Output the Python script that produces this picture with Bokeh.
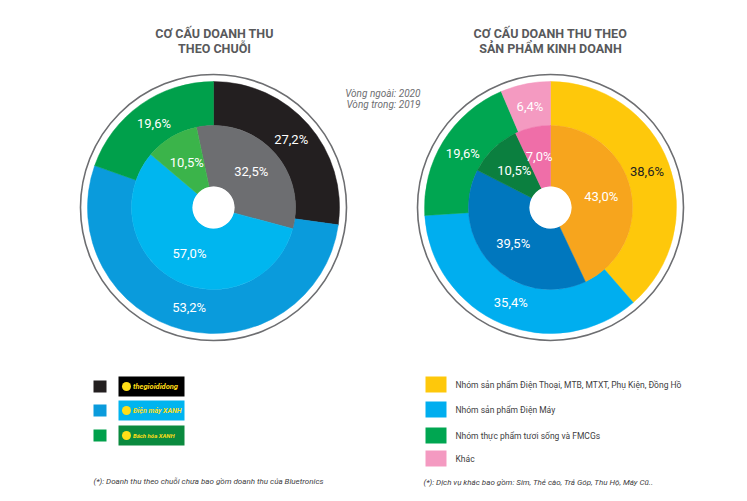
import math
from bokeh.plotting import figure
from bokeh.models import Range1d
from bokeh.core.properties import value
from bokeh.embed import file_html
from bokeh.resources import INLINE

# ---------------- data ----------------
chains = ["thegioididong", "Điện máy XANH", "Bách hóa XANH"]
chain_2020 = [27.2, 53.2, 19.6]   # outer ring
chain_2019 = [32.5, 57.0, 10.5]   # inner ring

products = ["Nhóm sản phẩm Điện Thoại, MTB, MTXT, Phụ Kiện, Đồng Hồ",
            "Nhóm sản phẩm Điện Máy",
            "Nhóm thực phẩm tươi sống và FMCGs",
            "Khác"]
product_2020 = [38.6, 35.4, 19.6, 6.4]   # outer ring
product_2019 = [43.0, 39.5, 10.5, 7.0]   # inner ring

title_left = ["CƠ CẤU DOANH THU", "THEO CHUỖI"]
title_right = ["CƠ CẤU DOANH THU THEO", "SẢN PHẨM KINH DOANH"]
ring_note = ["Vòng ngoài: 2020", "Vòng trong: 2019"]
foot_left = "(*): Doanh thu theo chuỗi chưa bao gồm doanh thu của Bluetronics"
foot_right = "(*): Dịch vụ khác bao gồm: Sim, Thẻ cào, Trả Góp, Thu Hộ, Máy Cũ.."

# ---------------- styles ----------------
chain_outer_colors = ["#231f20", "#0a9bdc", "#00a04b"]
chain_inner_colors = ["#6d6e71", "#00b6ef", "#3bb44a"]
chain_legend_colors = ["#231f20", "#0a9bdc", "#00a04b"]
logo_bg = ["#000000", "#00b4ef", "#0a8a3e"]
logo_font = ["7.5px", "7px", "6px"]

prod_outer_colors = ["#fec80b", "#00aeef", "#00a651", "#f49ac1"]
prod_inner_colors = ["#f7a51d", "#0077be", "#0b7f3f", "#ef6ea8"]
prod_outer_label_colors = ["#231f20", "white", "white", "white"]

W, H = 747, 501
FONT = value("Roboto")


def X(px):
    return px


def Y(py):
    return H - py


p = figure(width=W, height=H, x_range=Range1d(0, W), y_range=Range1d(0, H),
           output_backend="svg", toolbar_location=None, min_border=0,
           x_axis_location=None, y_axis_location=None)
p.grid.visible = False
p.outline_line_color = None
p.background_fill_color = "white"
p.border_fill_color = "white"

R_RING = 133
R_OUT = 126
R_IN = 82
R_HOLE = 21


def ring(cx, cy, r0, r1, vals, colors, start_deg=0.0):
    total = sum(vals)
    cum = start_deg / 360.0
    starts, ends, mids = [], [], []
    for v in vals:
        a0 = cum
        cum += v / total
        starts.append(math.pi / 2 - a0 * 2 * math.pi)
        ends.append(math.pi / 2 - cum * 2 * math.pi)
        mids.append((a0 + cum) / 2 * 2 * math.pi)
    p.annular_wedge(x=cx, y=cy, inner_radius=r0, outer_radius=r1,
                    start_angle=starts, end_angle=ends, direction="clock",
                    fill_color=colors, line_color=colors, line_width=0.5)
    return mids


def labels(cx, cy, r, mids, vals, colors):
    xs = [cx + r * math.sin(m) for m in mids]
    ys = [cy + r * math.cos(m) for m in mids]
    txt = [f"{v:.1f}".replace(".", ",") + "%" for v in vals]
    p.text(x=xs, y=ys, text=txt, text_color=colors, text_font=FONT,
           text_font_size="13px", text_align="center", text_baseline="middle")


def donut(cx, cy, outer_vals, outer_cols, inner_vals, inner_cols,
          inner_start, outer_label_colors):
    p.circle(x=cx, y=cy, radius=R_RING, fill_color=None,
             line_color="#6d6e71", line_width=1.6)
    mo = ring(cx, cy, R_IN, R_OUT, outer_vals, outer_cols)
    mi = ring(cx, cy, R_HOLE, R_IN, inner_vals, inner_cols, inner_start)
    p.circle(x=cx, y=cy, radius=R_HOLE, fill_color="white", line_color=None)
    labels(cx, cy, 103, mo, outer_vals, outer_label_colors)
    labels(cx, cy, 52, mi, inner_vals, ["white"] * len(inner_vals))


# left donut (chains)
donut(X(213), Y(207), chain_2020, chain_outer_colors, chain_2019,
      chain_inner_colors, -12, ["white"] * 3)
# right donut (products)
donut(X(550), Y(207), product_2020, prod_outer_colors, product_2019,
      prod_inner_colors, 0, prod_outer_label_colors)

# titles
for i, t in enumerate(title_left):
    p.text(x=[X(214)], y=[Y(33 + 15 * i)], text=[t], text_font=FONT,
           text_font_size="12.5px", text_font_style="bold", text_color="#58595b",
           text_align="center", text_baseline="middle")
for i, t in enumerate(title_right):
    p.text(x=[X(550)], y=[Y(33 + 15 * i)], text=[t], text_font=FONT,
           text_font_size="12.5px", text_font_style="bold", text_color="#58595b",
           text_align="center", text_baseline="middle")

# ring note
for i, t in enumerate(ring_note):
    p.text(x=[X(420)], y=[Y(93 + 11 * i)], text=[t], text_font=FONT,
           text_font_size="10px", text_font_style="italic", text_color="#6d6e71",
           text_align="right", text_baseline="middle")

# left legend: squares + logos
leg_y = [386, 410, 435]
for i, name in enumerate(chains):
    yc = Y(leg_y[i])
    p.rect(x=X(99.5), y=yc, width=13, height=12, fill_color=chain_legend_colors[i],
           line_color=None)
    p.rect(x=X(151), y=yc, width=66, height=20, fill_color=logo_bg[i], line_color=None)
    p.circle(x=X(126), y=yc, radius=4.5, fill_color="#ffde17", line_color=None)
    p.text(x=[X(132.5)], y=[yc], text=[name], text_font=FONT,
           text_font_size=logo_font[i], text_font_style="bold italic",
           text_color="#ffde17", text_align="left", text_baseline="middle")

# right legend
leg2_y = [384, 409, 435, 458]
for i, name in enumerate(products):
    yc = Y(leg2_y[i])
    p.rect(x=X(435.5), y=yc, width=21, height=16, fill_color=prod_outer_colors[i],
           line_color=None)
    p.text(x=[X(455)], y=[yc], text=[name], text_font=FONT, text_font_size="8.5px",
           text_color="#414042", text_align="left", text_baseline="middle")

# footnotes
p.text(x=[X(93)], y=[Y(481)], text=[foot_left], text_font=FONT, text_font_size="8px",
       text_font_style="italic", text_color="#414042", text_align="left",
       text_baseline="middle")
p.text(x=[X(423)], y=[Y(482)], text=[foot_right], text_font=FONT, text_font_size="8px",
       text_font_style="italic", text_color="#414042", text_align="left",
       text_baseline="middle")

open("out.html", "w").write(file_html(p, INLINE))
